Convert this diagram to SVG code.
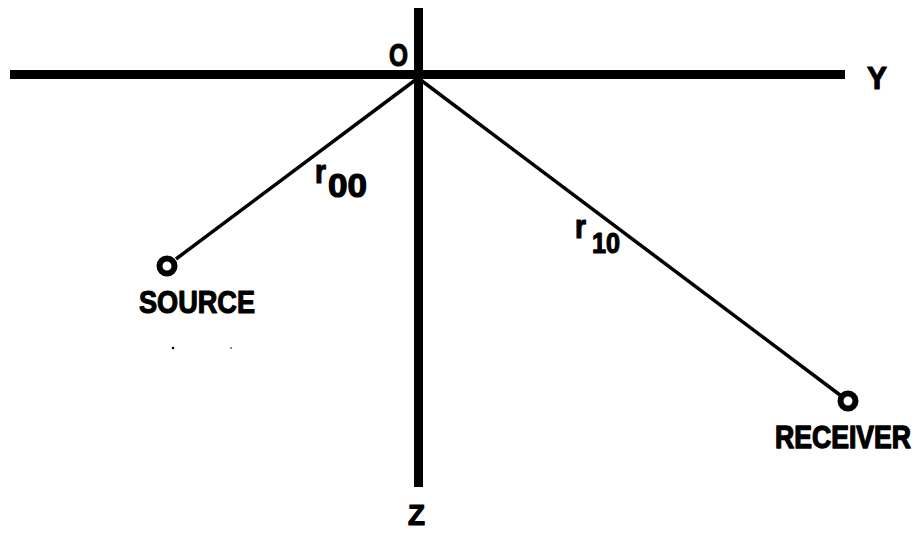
<svg xmlns="http://www.w3.org/2000/svg" width="919" height="533" viewBox="0 0 919 533">
<style>
.t{font-family:"Liberation Sans",Arial,sans-serif;font-weight:bold;fill:#000;stroke:#000;stroke-width:1.2;stroke-linejoin:round}
.ax{stroke:#000;stroke-width:9;fill:none}
.ln{stroke:#000;stroke-width:3.5;fill:none}
.pt{stroke:#000;stroke-width:6;fill:#fff}
</style>
<rect width="919" height="533" fill="#fff"/>
<g id="connectors">
<line class="ax" x1="10" y1="74.5" x2="845" y2="74.5"/>
<line class="ax" x1="418.5" y1="8" x2="418.5" y2="487"/>
<line class="ln" x1="418" y1="78" x2="176" y2="259"/>
<line class="ln" x1="418" y1="78" x2="840" y2="395"/>
</g>
<g id="origin"><text class="t" x="389" y="66" font-size="31" textLength="19" lengthAdjust="spacingAndGlyphs">O</text></g>
<g id="axisY"><text class="t" x="867" y="89" font-size="32" textLength="20" lengthAdjust="spacingAndGlyphs">Y</text></g>
<g id="axisZ"><text class="t" x="408" y="525" font-size="29" textLength="17" lengthAdjust="spacingAndGlyphs">Z</text></g>
<g id="source">
<circle class="pt" cx="167" cy="266" r="7.5"/>
<text class="t" x="139" y="313" font-size="32" textLength="116" lengthAdjust="spacingAndGlyphs">SOURCE</text>
</g>
<g id="receiver">
<circle class="pt" cx="848" cy="401" r="7.5"/>
<text class="t" transform="translate(775,448) scale(1,1.15)" x="0" y="0" font-size="27" textLength="136" lengthAdjust="spacingAndGlyphs">RECEIVER</text>
</g>
<g id="label-r00">
<text class="t" x="315" y="183" font-size="33" textLength="11" lengthAdjust="spacingAndGlyphs">r</text>
<text class="t" x="328" y="197" font-size="33" textLength="39" lengthAdjust="spacingAndGlyphs">00</text>
</g>
<g id="label-r10">
<text class="t" x="575" y="238" font-size="33" textLength="11" lengthAdjust="spacingAndGlyphs">r</text>
<text class="t" x="592" y="253" font-size="29" textLength="28" lengthAdjust="spacingAndGlyphs">10</text>
</g>
<g id="specks">
<circle cx="173" cy="348" r="1.3" fill="#000"/>
<circle cx="231" cy="348" r="0.8" fill="#000"/>
</g>
</svg>
